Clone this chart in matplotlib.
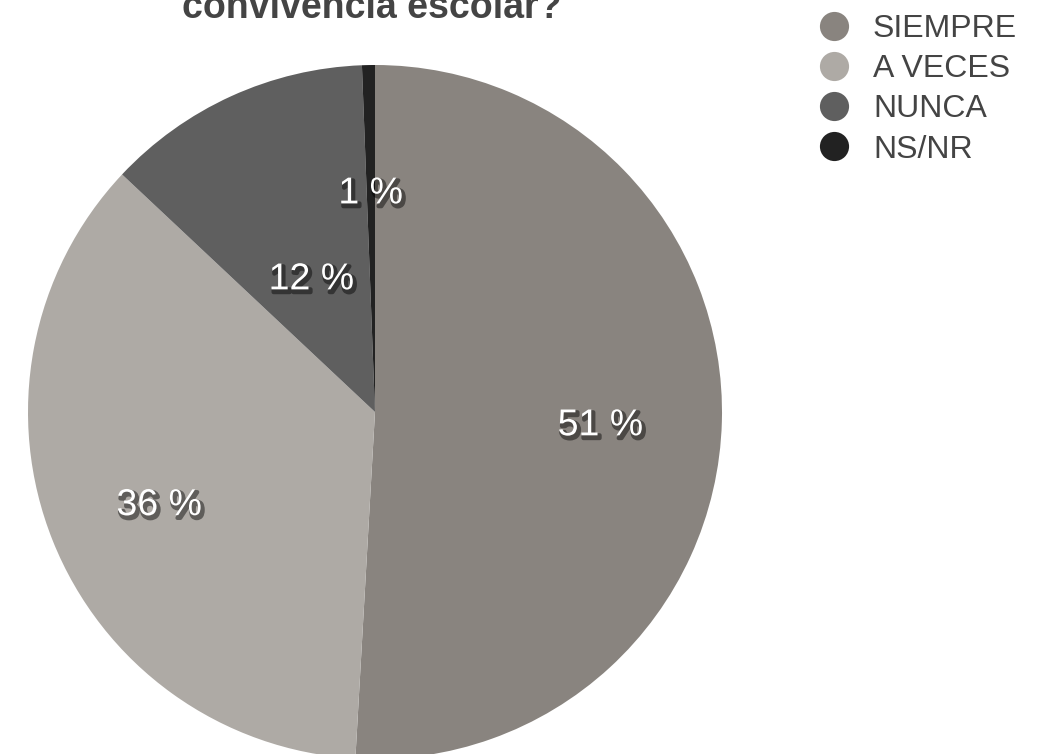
import matplotlib
matplotlib.use("Agg")
import matplotlib.pyplot as plt
import matplotlib.patheffects as pe
from matplotlib.lines import Line2D

plt.rcParams['font.family'] = ['Liberation Sans', 'DejaVu Sans']

categorias = ["SIEMPRE", "A VECES", "NUNCA", "NS/NR"]
valores = [50.9, 36.1, 12.4, 0.6]
colores = ["#89847f", "#aeaaa5", "#5f5f5f", "#222222"]
titulo = "convivencia escolar?"

W, H = 1050, 754
fig = plt.figure(figsize=(W / 100, H / 100), dpi=100)
fig.patch.set_facecolor("white")

# pie box in pixels: centre (375, 412), radius 347
cx, cy, r = 375, 412, 347
ax = fig.add_axes([(cx - r) / W, (H - cy - r) / H, 2 * r / W, 2 * r / H])

wedges, texts, autotexts = ax.pie(
    valores, colors=colores, startangle=90, counterclock=False,
    radius=1, autopct=lambda p: "%.0f %%" % p, pctdistance=0.65,
    wedgeprops=dict(linewidth=0), frame=False)
ax.set_xlim(-1, 1)
ax.set_ylim(-1, 1)
ax.set_aspect("auto")
ax.axis("off")

# radial tweak so labels sit where the original puts them
ajuste = [1.0, 1.03, 0.68, 1.0]
for t, f in zip(autotexts, ajuste):
    x, y = t.get_position()
    t.set_position((x * f, y * f - 0.02))
    t.set_color("white")
    t.set_fontsize(27)
    t.set_path_effects([pe.SimpleLineShadow(offset=(1.5, -2), shadow_color="black",
                                            alpha=0.45, linewidth=3),
                        pe.Normal()])

fig.text(372 / W, 1 - 18 / H, titulo, ha="center", va="baseline",
         fontsize=27, fontweight="bold", color="#444444")

handles = [Line2D([], [], linestyle="none", marker="o", markersize=21,
                  markerfacecolor=c, markeredgewidth=0) for c in colores]
fig.legend(handles, categorias, loc="upper left",
           bbox_to_anchor=(818 / W, 1 - 14 / H), frameon=False,
           fontsize=23, labelcolor="#444444", handlelength=1,
           handletextpad=0.72, labelspacing=0.32, borderpad=0,
           borderaxespad=0)

fig.savefig("out.png", dpi=100)
